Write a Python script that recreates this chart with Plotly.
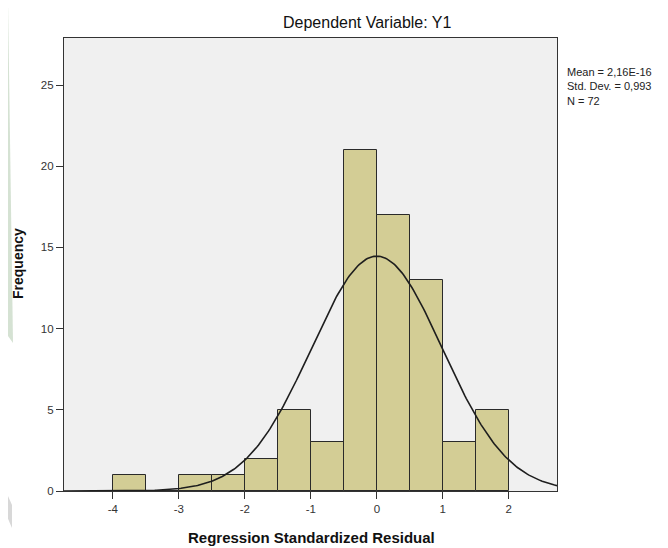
import numpy as np
import plotly.graph_objects as go

# Histogram data
bin_centers = [-3.75, -3.25, -2.75, -2.25, -1.75, -1.25, -0.75, -0.25, 0.25, 0.75, 1.25, 1.75]
counts = [1, 0, 1, 1, 2, 5, 3, 21, 17, 13, 3, 5]
bin_width = 0.5

# Summary statistics shown in the chart
mean_val = 2.16e-16
std_val = 0.993
n_val = 72
stats_text = ["Mean = 2,16E-16", "Std. Dev. = 0,993", "N = 72"]

x_ticks = [-4, -3, -2, -1, 0, 1, 2]
y_ticks = [0, 5, 10, 15, 20, 25]

x_range = [-4.74, 2.73]
y_range = [0, 27.9]

xs = np.linspace(x_range[0], x_range[1], 300)
ys = n_val * bin_width * np.exp(-0.5 * ((xs - mean_val) / std_val) ** 2) / (std_val * np.sqrt(2 * np.pi))

# page-pixel -> paper helpers (page has an 8px body margin)
PL, PR, PT, PB = 64, 557, 38, 491
def px(x):
    return (x - PL) / (PR - PL)
def py(y):
    return (PB - y) / (PB - PT)

fig = go.Figure()
fig.add_trace(go.Bar(
    x=bin_centers, y=counts, width=bin_width,
    marker=dict(color="#D3CD95", line=dict(color="#2a2a2a", width=1)),
    showlegend=False, hoverinfo="x+y",
))
fig.add_trace(go.Scatter(
    x=xs, y=ys, mode="lines",
    line=dict(color="#1e1e1e", width=1.6),
    showlegend=False, hoverinfo="skip",
))

font_fam = "Liberation Sans, Arial, sans-serif"
axis_common = dict(
    showline=True, linecolor="#333333", linewidth=1.2, mirror=True,
    ticks="outside", ticklen=7, tickcolor="#333333", tickwidth=1,
    showgrid=False, zeroline=False,
    tickfont=dict(family=font_fam, size=11.5, color="#333333"),
)

green_path = "M {} {} L {} {} L {} {} L {} {} Z".format(
    px(0), py(0), px(8), py(0), px(13), py(343), px(0), py(325))
gray_path = "M {} {} L {} {} L {} {} L {} {} Z".format(
    px(0), py(478), px(12), py(505), px(12), py(528), px(0), py(500))

fig.update_layout(
    width=660, height=540,
    margin=dict(l=56, r=111, t=30, b=57),
    paper_bgcolor="white",
    plot_bgcolor="#F0F0F0",
    bargap=0,
    xaxis=dict(range=x_range, tickmode="array", tickvals=x_ticks,
               ticktext=[str(v) for v in x_ticks], **axis_common),
    yaxis=dict(range=y_range, tickmode="array", tickvals=y_ticks,
               ticktext=[str(v) for v in y_ticks], **axis_common),
    shapes=[
        dict(type="path", xref="paper", yref="paper", path=green_path,
             fillcolor="#D5E2D3", line=dict(width=0)),
        dict(type="path", xref="paper", yref="paper", path=gray_path,
             fillcolor="#D8D8D8", line=dict(width=0)),
    ],
    annotations=[
        dict(text="Dependent Variable: Y1", xref="paper", yref="paper",
             x=px(367), y=py(22), yanchor="middle", xanchor="center", showarrow=False,
             font=dict(family=font_fam, size=16, color="#111111")),
        dict(text="<b>Regression Standardized Residual</b>", xref="paper", yref="paper",
             x=px(311), y=py(537), yanchor="middle", xanchor="center", showarrow=False,
             font=dict(family=font_fam, size=15, color="#111111")),
        dict(text="<b>Frequency</b>", xref="paper", yref="paper",
             x=px(18), y=py(264), yanchor="middle", xanchor="center", showarrow=False,
             textangle=-90,
             font=dict(family=font_fam, size=14, color="#111111")),
        dict(text="<br>".join(stats_text), xref="paper", yref="paper",
             x=px(565), y=py(64), yanchor="top", xanchor="left", align="left",
             showarrow=False,
             font=dict(family="Liberation Sans Narrow, Liberation Sans, Arial, sans-serif",
                       size=11, color="#222222")),
    ],
)

fig.write_html("out.html")
